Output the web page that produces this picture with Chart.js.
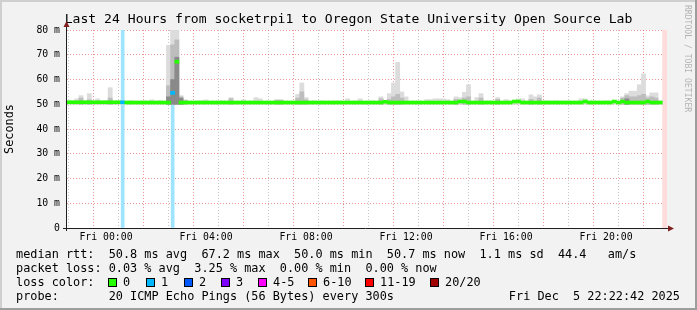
<!DOCTYPE html>
<html><head><meta charset="utf-8">
<script src="https://cdn.jsdelivr.net/npm/chart.js@4/dist/chart.umd.min.js"></script>
<style>html,body{margin:0;padding:0;background:#f2f2f2;}canvas{display:block;}</style>
</head><body>
<canvas id="c" width="697" height="310"></canvas>
<script>
// ---------------- data ----------------
const titleText = 'Last 24 Hours from socketrpi1 to Oregon State University Open Source Lab';
const yAxisTitle = 'Seconds';
const startHour = -1.5;          // first sample: Thu 22:30 (hours relative to Fri 00:00)
const stepHours = 1 / 6;         // one sample every 10 minutes
const axisMinHour = -1.56;
const axisMaxHour = 22.44;
const hourTicks = [-1,0,1,2,3,4,5,6,7,8,9,10,11,12,13,14,15,16,17,18,19,20,21,22];
const hourLabels = {0:'Fri 00:00',4:'Fri 04:00',8:'Fri 08:00',12:'Fri 12:00',16:'Fri 16:00',20:'Fri 20:00'};
const yTicks = [0,5,10,15,20,25,30,35,40,45,50,55,60,65,70,75,80];
const yMax = 80;
const smokeMin = 50.0;

// median rtt (ms)
const median = [
 50.8,50.8,50.8,50.8,50.8,50.8,50.8,50.8,50.8,50.8,
 50.8,50.8,50.8,50.8,50.7,50.7,50.7,50.7,50.7,50.7,
 50.7,50.7,50.7,50.7,50.7,54.6,67.2,50.7,50.7,50.7,
 50.7,50.7,50.7,50.7,50.7,50.7,50.7,50.7,50.7,50.7,
 50.7,50.7,50.7,50.7,50.7,50.7,50.7,50.7,50.7,50.7,
 50.7,50.7,50.7,50.7,50.7,50.7,50.7,50.7,50.7,50.7,
 50.7,50.7,50.7,50.7,50.7,50.7,50.7,50.7,50.7,50.7,
 50.7,50.7,50.7,50.7,50.7,50.7,51.0,50.7,50.7,50.7,
 50.7,50.7,50.7,50.7,50.7,50.7,50.7,50.7,50.7,50.7,
 50.7,50.7,50.7,50.7,51.1,51.1,50.7,50.7,50.7,50.7,
 50.7,50.7,50.7,50.7,50.7,50.7,50.7,51.1,51.1,50.7,
 50.7,50.7,50.7,50.7,50.7,50.7,50.7,50.7,50.7,50.7,
 50.7,50.7,50.7,50.7,51.1,50.7,50.7,50.7,50.7,50.7,
 50.7,51.1,50.7,51.1,50.7,50.7,50.7,50.7,50.7,51.1,
 50.7,50.7,50.7
];
// lost pings out of 20 per sample
const loss = [
 0,0,0,0,0,0,0,0,0,0, 0,0,0,1,0,0,0,0,0,0, 0,0,0,0,0,1,0,0,0,0,
 0,0,0,0,0,0,0,0,0,0, 0,0,0,0,0,0,0,0,0,0, 0,0,0,0,0,0,0,0,0,0,
 0,0,0,0,0,0,0,0,0,0, 0,0,0,0,0,0,0,0,0,0, 0,0,0,0,0,0,0,0,0,0,
 0,0,0,0,0,0,0,0,0,0, 0,0,0,0,0,0,0,0,0,0, 0,0,0,0,0,0,0,0,0,0,
 0,0,0,0,0,0,0,0,0,0, 0,0,0,0,0,0,0,0,0,0, 0,0,0
];
// smoke: highest ping of the sample (ms)
const smokeMax = [
 51.5,51.5,52.2,53.5,51.5,54.3,51.3,52.2,51.3,51.4,
 56.7,51.3,51.3,51.5,51.3,51.5,51.3,51.3,51.4,51.3,
 51.8,51.3,51.5,51.3,73.8,82.0,82.0,53.5,51.8,51.3,
 51.3,51.4,51.5,51.8,51.3,51.3,51.3,51.5,51.3,52.7,
 51.3,51.3,51.8,51.3,51.4,52.7,52.2,51.3,51.3,51.3,
 51.9,51.9,51.3,51.3,51.3,54.0,58.6,52.7,51.3,51.4,
 51.3,51.4,51.3,51.3,51.4,51.4,51.3,52.2,51.3,51.4,
 52.2,51.3,51.3,51.4,51.3,53.0,51.4,54.3,58.6,66.9,
 55.0,53.0,51.3,51.3,51.3,51.3,51.9,51.9,52.2,52.2,
 52.2,51.9,51.3,53.0,52.7,54.8,57.9,51.3,52.7,54.3,
 51.4,51.4,51.3,52.7,51.3,51.9,51.4,51.3,52.2,52.2,
 51.3,53.8,53.0,53.8,51.4,51.4,51.3,51.4,51.3,51.3,
 51.3,51.3,51.3,52.2,52.2,51.4,51.4,51.3,51.3,51.4,
 51.3,51.3,51.3,53.0,54.3,55.3,55.3,57.9,62.3,53.4,
 54.6,54.6,51.4
];
// smoke: denser middle band (ms)
const smokeMid = [
 50,50,50,52.5,50,51.8,50,50,50,50,
 52.5,50,50,50,50,50,50,50,50,50,
 50,50,50,50,57.5,74,76,53,51.6,50,
 50,50,50,50,50,50,50,50,50,52.2,
 50,50,50,50,50,50,50,50,50,50,
 51.6,51.6,50,50,50,52.5,55,51.8,50,50,
 50,50,50,50,50,50,50,50,50,50,
 50,50,50,50,50,52.2,50,52,53,54,
 52.5,50,50,50,50,50,50,50,50,50,
 50,50,50,52,50,52.5,53,50,50,52.5,
 50,50,50,52,50,50,50,50,50,50,
 50,52,50,52.5,50,50,50,50,50,50,
 50,50,50,50,50,50,50,50,50,50,
 50,50,50,52.5,53.5,53,53,53.5,54,52.5,
 53,52.5,50
];
// smoke: densest core (ms)
const smokeDark = [
 50,50,50,50,50,50,50,50,50,50, 50,50,50,50,50,50,50,50,50,50,
 50,50,50,50,53,60,69,52.5,50,50, 50,50,50,50,50,50,50,50,50,50,
 50,50,50,50,50,50,50,50,50,50, 50,50,50,50,50,50,50,50,50,50,
 50,50,50,50,50,50,50,50,50,50, 50,50,50,50,50,50,50,50,50,50,
 50,50,50,50,50,50,50,50,50,50, 50,50,50,50,50,50,50,50,50,50,
 50,50,50,50,50,50,50,50,50,50, 50,50,50,50,50,50,50,50,50,50,
 50,50,50,50,50,50,50,50,50,50, 50,50,50,50,52.2,50,50,50,50,50,
 50,50,50
];
const lossLabels = ['0','1','2','3','4-5','6-10','11-19','20/20'];
const lossColors = ['#26ff00','#00b8ff','#0059ff','#7e00ff','#ff00ff','#ff5500','#ff0000','#a10000'];
const legendRtt = 'median rtt:  50.8 ms avg  67.2 ms max  50.0 ms min  50.7 ms now  1.1 ms sd  44.4   am/s';
const legendLoss = 'packet loss: 0.03 % avg  3.25 % max  0.00 % min  0.00 % now';
const legendLossColor = 'loss color:';
const legendProbe = 'probe:       20 ICMP Echo Pings (56 Bytes) every 300s';
const legendDate = 'Fri Dec  5 22:22:42 2025';
const watermark = 'RRDTOOL / TOBI OETIKER';

// ---------------- chart ----------------
const MONO = "'DejaVu Sans Mono', monospace";
const MAJOR = 'rgba(222,79,79,0.6)';
const MINOR = 'rgba(143,143,143,0.5)';
const times = median.map((_, i) => startHour + i * stepHours);
function lossLevel(n){ if(n<=0) return 0; if(n<=3) return n; if(n<=5) return 4; if(n<=10) return 5; if(n<=19) return 6; return 7; }
function lighten(hex, f){ const n=parseInt(hex.slice(1),16); const r=n>>16,g=(n>>8)&255,b=n&255;
  const m=c=>Math.round(c*(1-f)+255*f); return `rgb(${m(r)},${m(g)},${m(b)})`; }
const band = arr => arr.map((v, i) => ({x: times[i], y: v > smokeMin ? [smokeMin, Math.min(v, yMax)] : null}));
const barCommon = {type:'bar', grouped:false, barPercentage:1, categoryPercentage:1, borderWidth:0};

const lossPoints = [];
loss.forEach((n, i) => { if (n > 0) lossPoints.push({x: times[i], y: [0, yMax], n}); });

const bgPlugin = {
  id: 'bg',
  beforeDraw(chart){
    const {ctx, chartArea:a} = chart;
    ctx.save();
    ctx.fillStyle = '#f2f2f2'; ctx.fillRect(0,0,697,310);
    ctx.fillStyle = '#cfcfcf'; ctx.fillRect(0,0,697,2); ctx.fillRect(0,0,2,310);
    ctx.fillStyle = '#9e9e9e'; ctx.fillRect(0,308,697,2); ctx.fillRect(695,0,2,310);
    ctx.fillStyle = '#ffffff'; ctx.fillRect(a.left, a.top, a.right-a.left, a.bottom-a.top);
    ctx.restore();
  },
  beforeDatasetsDraw(chart){
    const {ctx, chartArea:a, scales:{x}} = chart;
    const endPx = x.getPixelForValue(times[times.length-1] + stepHours/2);
    ctx.save(); ctx.fillStyle = '#ffdcdc';
    ctx.fillRect(endPx, a.top, a.right-endPx, a.bottom-a.top); ctx.restore();
  },
  afterDraw(chart){
    const {ctx, chartArea:a} = chart;
    ctx.save();
    // axes
    ctx.strokeStyle = '#1f1f1f'; ctx.lineWidth = 1;
    ctx.beginPath(); ctx.moveTo(a.left-4, a.bottom+0.5); ctx.lineTo(a.right+1, a.bottom+0.5); ctx.stroke();
    ctx.beginPath(); ctx.moveTo(a.left-0.5, a.bottom+3); ctx.lineTo(a.left-0.5, a.top-3); ctx.stroke();
    ctx.fillStyle = '#801f1f';
    ctx.beginPath(); ctx.moveTo(a.left-0.5, a.top-9); ctx.lineTo(a.left-3.5, a.top-3); ctx.lineTo(a.left+2.5, a.top-3); ctx.closePath(); ctx.fill();
    ctx.beginPath(); ctx.moveTo(a.right+7, a.bottom+0.5); ctx.lineTo(a.right+1, a.bottom-2.5); ctx.lineTo(a.right+1, a.bottom+3.5); ctx.closePath(); ctx.fill();
    // legend
    ctx.fillStyle = '#000'; ctx.font = `11.85px ${MONO}`; ctx.textBaseline = 'middle'; ctx.textAlign = 'left';
    ctx.fillText(legendRtt, 16, 254.5);
    ctx.fillText(legendLoss, 16, 268.5);
    ctx.fillText(legendLossColor, 16, 282.5);
    ctx.fillText(legendProbe, 16, 296.5);
    ctx.textAlign = 'right'; ctx.fillText(legendDate, 680, 296.5);
    ctx.textAlign = 'left';
    const boxX = [108, 146, 184, 221, 258, 308, 365, 430];
    lossLabels.forEach((lab, i) => {
      const bx = boxX[i];
      ctx.fillStyle = lossColors[i]; ctx.fillRect(bx, 278, 9, 9);
      ctx.strokeStyle = '#000'; ctx.strokeRect(bx+0.5, 278.5, 8, 8);
      ctx.fillStyle = '#000'; ctx.fillText(lab, bx + 15, 282.5);
    });
    // watermark
    ctx.translate(687, 5); ctx.rotate(Math.PI/2);
    ctx.font = `8.1px ${MONO}`; ctx.fillStyle = '#b4b4b4'; ctx.textBaseline = 'middle';
    ctx.fillText(watermark, 0, 0);
    ctx.restore();
  }
};

new Chart(document.getElementById('c'), {
  type: 'bar',
  data: { datasets: [
    {...barCommon, label:'median rtt', order:0,
     data: median.map((v, i) => ({x: times[i], y: [v - 0.6, v + 0.6]})),
     backgroundColor: c => lossColors[lossLevel(loss[c.dataIndex])]},
    {...barCommon, label:'smoke core', order:1, data: band(smokeDark), backgroundColor:'#8a8a8a'},
    {...barCommon, label:'smoke dense', order:2, data: band(smokeMid), backgroundColor:'#bdbdbd'},
    {...barCommon, label:'smoke', order:3, data: band(smokeMax), backgroundColor:'#dcdcdc'},
    {...barCommon, label:'loss', order:4, data: lossPoints, barThickness:3,
     backgroundColor: c => lighten(lossColors[lossLevel(c.raw ? c.raw.n : 1)], 0.62)}
  ]},
  options: {
    responsive:false, animation:false, events:[],
    layout:{padding:0},
    plugins:{
      legend:{display:false}, tooltip:{enabled:false},
      title:{display:true, text:titleText, color:'#000', font:{family:MONO, size:13.1, weight:'normal'}, padding:{top:11.5, bottom:2.8}}
    },
    scales:{
      x:{type:'linear', min:axisMinHour, max:axisMaxHour, offset:false,
        afterBuildTicks: s => { s.ticks = hourTicks.map(v => ({value:v})); },
        afterFit: s => { s.height = 82; },
        ticks:{autoSkip:false, maxRotation:0, padding:3.5, color:'#000', font:{family:MONO, size:9.8},
          callback: v => hourLabels[v] || ''},
        grid:{drawTicks:false, color: c => (c.tick && c.tick.value % 2 === 0) ? MAJOR : MINOR},
        border:{display:false, dash:[1,2]}
      },
      y:{type:'linear', min:0, max:yMax,
        afterBuildTicks: s => { s.ticks = yTicks.map(v => ({value:v})); },
        afterFit: s => { s.width = 67; },
        ticks:{padding:7, color:'#000', font:{family:MONO, size:9.8},
          callback: v => v % 10 === 0 ? (v === 0 ? '0' : v + ' m') : ''},
        grid:{drawTicks:false, color: c => (c.tick && c.tick.value % 10 === 0) ? MAJOR : MINOR},
        border:{display:false, dash:[1,2]},
        title:{display:true, text:yAxisTitle, color:'#000', font:{family:MONO, size:11.85}, padding:{top:3, bottom:0}}
      },
      yRight:{type:'linear', position:'right', min:0, max:1, display:true,
        afterFit: s => { s.width = 30; },
        ticks:{display:false}, grid:{display:false, drawTicks:false}, border:{display:false}}
    }
  },
  plugins:[bgPlugin]
});
</script>
</body></html>
